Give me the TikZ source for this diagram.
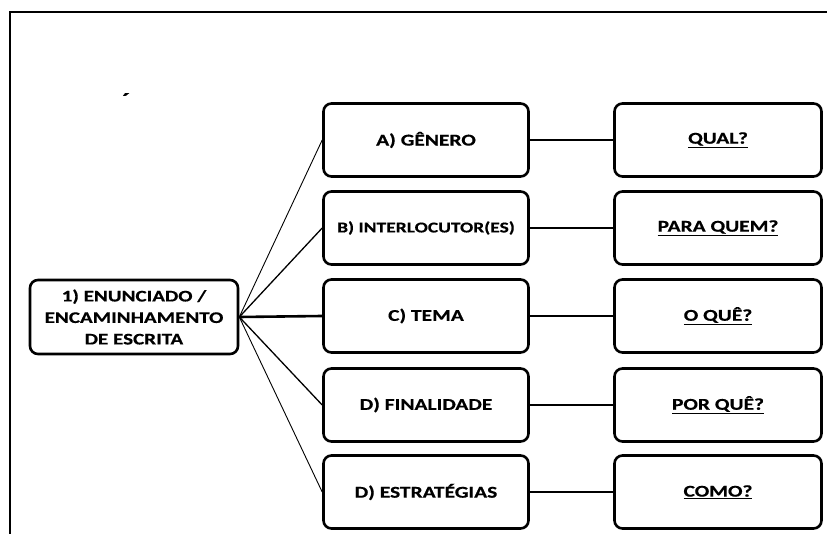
\documentclass[tikz,border=0pt]{standalone}
\usepackage{fontspec}
\setmainfont{Carlito}
\newfontfamily\largo{Carlito}[FakeStretch=1.3, FakeBold=0.5]
\usepackage{tikz}

\begin{document}
\begin{tikzpicture}[x=1pt, y=-1pt,
    box/.style={rectangle, draw, line width=2.6pt, rounded corners=8pt, minimum width=205pt, minimum height=73pt, align=center, font=\largo\bfseries\fontsize{16.5}{19}\selectfont},
    qbox/.style={box, minimum width=207pt},
    fan/.style={line width=0.9pt},
    link/.style={line width=2.6pt}
]
    \useasboundingbox (0,0) rectangle (827,534);
    \draw[line width=2pt] (10,534) -- (10,12) -- (827,12);
    \node[font=\largo\bfseries\fontsize{20}{20}\selectfont] (acento) at (126,100) {´};

    \node[box, minimum width=208pt, minimum height=74pt, inner sep=2pt, font=\largo\bfseries\fontsize{16.2}{21.5}\selectfont] (enunciado) at (134,317) {1) ENUNCIADO /\\ENCAMINHAMENTO\\DE ESCRITA};

    \node[box] (genero) at (426,140) {A) GÊNERO};
    \node[box, font=\largo\bfseries\fontsize{15}{17}\selectfont] (interloc) at (426,228) {B) INTERLOCUTOR(ES)};
    \node[box] (tema) at (426,316) {C) TEMA};
    \node[box] (finalidade) at (426,405) {D) FINALIDADE};
    \node[box] (estrategias) at (426,492) {D) ESTRATÉGIAS};

    \node[qbox] (qual) at (718,140) {\underline{QUAL?}};
    \node[qbox] (paraquem) at (718,228) {\underline{PARA QUEM?}};
    \node[qbox] (oque) at (718,316) {\underline{O QUÊ?}};
    \node[qbox] (porque) at (718,405) {\underline{POR QUÊ?}};
    \node[qbox] (como) at (718,492) {\underline{COMO?}};

    \draw[fan] (enunciado.east) -- (genero.west);
    \draw[fan, line width=1.3pt] (enunciado.east) -- (interloc.west);
    \draw[link] (enunciado.east) -- (tema.west);
    \draw[fan, line width=1.3pt] (enunciado.east) -- (finalidade.west);
    \draw[fan] (enunciado.east) -- (estrategias.west);

    \draw[link] (genero.east) -- (qual.west);
    \draw[link] (interloc.east) -- (paraquem.west);
    \draw[link] (tema.east) -- (oque.west);
    \draw[link] (finalidade.east) -- (porque.west);
    \draw[link] (estrategias.east) -- (como.west);
\end{tikzpicture}
\end{document}
